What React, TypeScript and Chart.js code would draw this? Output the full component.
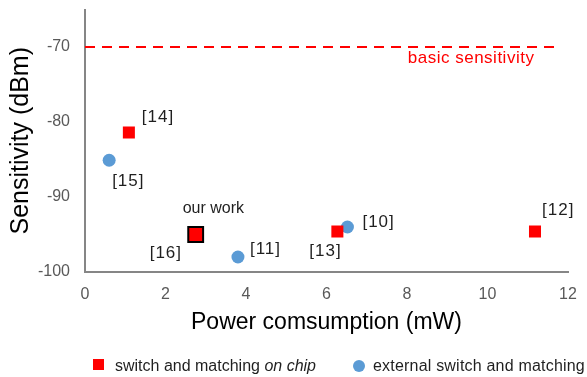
import React, { useEffect, useRef } from "react";
import { Chart, registerables } from "chart.js";

Chart.register(...registerables);

// Measured sensitivity versus power consumption
const onChipPower = [1.09, 6.27, 11.18];
const onChipSensitivity = [-81.4, -94.6, -94.6];
const onChipRefs = ["[14]", "[13]", "[12]"];

const ourWorkPower = [2.75];
const ourWorkSensitivity = [-95.0];

const externalPower = [0.6, 3.8, 6.52];
const externalSensitivity = [-85.1, -98.0, -94.0];
const externalRefs = ["[15]", "[11]", "[10]"];

const basicSensitivityLevel = -70;
const basicSensitivitySpan = [0, 11.8];

const xTicks = [0, 2, 4, 6, 8, 10, 12];
const yTicks = [-100, -90, -80, -70];

const FONT = "'Liberation Sans', Arial, sans-serif";
const RED = "#ff0000";
const BLUE = "#5b9bd5";
const AXIS = "#868686";
const TICK = "#595959";

// Canvas is drawn slightly taller and lifted so the plot top sits near the page edge
const LIFT = 3;
const W = 587;
const H = 377 + LIFT;

// Pixel offsets of each point annotation from its marker (left-aligned text, middle baseline)
const onChipLabelOffsets = [
  [13, -15],
  [-28, 20],
  [7, -21],
];
const externalLabelOffsets = [
  [3, 21],
  [12, -8],
  [15, -5],
];

const annotate = {
  id: "annotate",
  afterDatasetsDraw(chart: any) {
    const { ctx, scales } = chart;
    ctx.save();
    ctx.textBaseline = "middle";
    ctx.textAlign = "left";
    ctx.fillStyle = "#1f1f1f";
    ctx.font = `17px ${FONT}`;
    ctx.letterSpacing = "1px";

    const onChip = chart.getDatasetMeta(1).data;
    onChipRefs.forEach((t, i) => {
      const p = onChip[i];
      ctx.fillText(t, p.x + onChipLabelOffsets[i][0], p.y + onChipLabelOffsets[i][1]);
    });
    const ext = chart.getDatasetMeta(3).data;
    externalRefs.forEach((t, i) => {
      const p = ext[i];
      ctx.fillText(t, p.x + externalLabelOffsets[i][0], p.y + externalLabelOffsets[i][1]);
    });

    const ours = chart.getDatasetMeta(2).data[0];
    ctx.fillText("[16]", ours.x - 46, ours.y + 19);
    ctx.letterSpacing = "0px";
    ctx.font = `16px ${FONT}`;
    ctx.fillText("our work", ours.x - 13, ours.y - 26);

    // basic sensitivity caption under the dashed line
    ctx.fillStyle = RED;
    ctx.font = `17px ${FONT}`;
    ctx.letterSpacing = "0.5px";
    ctx.fillText("basic sensitivity", scales.x.getPixelForValue(8.02), scales.y.getPixelForValue(basicSensitivityLevel) + 11);
    ctx.restore();
  },
  afterDraw(chart: any) {
    const { ctx } = chart;
    ctx.save();
    ctx.textBaseline = "middle";
    ctx.textAlign = "left";
    const ly = 367 + LIFT;
    // on-chip entry
    ctx.fillStyle = RED;
    ctx.fillRect(93, 359 + LIFT, 11, 11);
    ctx.fillStyle = "#1f1f1f";
    ctx.font = `16px ${FONT}`;
    const part = "switch and matching ";
    ctx.fillText(part, 115, ly);
    const w = ctx.measureText(part).width;
    ctx.font = `italic 16px ${FONT}`;
    ctx.fillText("on chip", 115 + w, ly);
    // external entry
    ctx.fillStyle = BLUE;
    ctx.beginPath();
    ctx.arc(359, 366 + LIFT, 6, 0, Math.PI * 2);
    ctx.fill();
    ctx.fillStyle = "#1f1f1f";
    ctx.font = `16px ${FONT}`;
    ctx.letterSpacing = "0.2px";
    ctx.fillText("external switch and matching", 373, ly);
    ctx.restore();
  },
};

export default function App() {
  const ref = useRef<HTMLCanvasElement | null>(null);

  useEffect(() => {
    if (!ref.current) return;
    const pts = (xs: number[], ys: number[]) => xs.map((x, i) => ({ x, y: ys[i] }));
    const chart = new Chart(ref.current, {
      type: "scatter",
      data: {
        datasets: [
          {
            type: "line",
            label: "basic sensitivity",
            data: basicSensitivitySpan.map((x) => ({ x, y: basicSensitivityLevel })),
            borderColor: RED,
            borderWidth: 2,
            borderDash: [10, 7],
            pointRadius: 0,
            fill: false,
          } as any,
          {
            label: "switch and matching on chip",
            data: pts(onChipPower, onChipSensitivity),
            pointStyle: "rect",
            pointRadius: 8.5,
            backgroundColor: RED,
            borderWidth: 0,
          },
          {
            label: "our work",
            data: pts(ourWorkPower, ourWorkSensitivity),
            pointStyle: "rect",
            pointRadius: 10.5,
            backgroundColor: RED,
            borderColor: "#000000",
            borderWidth: 2,
          },
          {
            label: "external switch and matching",
            data: pts(externalPower, externalSensitivity),
            pointStyle: "circle",
            pointRadius: 6.5,
            backgroundColor: BLUE,
            borderWidth: 0,
          },
        ],
      },
      options: {
        responsive: false,
        animation: false,
        devicePixelRatio: 1,
        layout: { padding: { left: 0, top: 0, right: 19, bottom: 0 } },
        plugins: { legend: { display: false }, tooltip: { enabled: false } },
        scales: {
          x: {
            type: "linear",
            min: 0,
            max: 12,
            afterBuildTicks: (s: any) => {
              s.ticks = xTicks.map((value) => ({ value }));
            },
            afterFit: (s: any) => {
              s.height = 105;
              s.paddingLeft = 0;
              s.paddingRight = 0;
            },
            grid: { display: false, drawTicks: false },
            border: { color: AXIS, width: 2 },
            ticks: { color: TICK, font: { family: FONT, size: 16 }, padding: 13, maxRotation: 0 },
            title: {
              display: true,
              text: "Power comsumption (mW)",
              color: "#000000",
              font: { family: FONT, size: 23 },
              padding: { top: 0, bottom: 41 },
            },
          },
          y: {
            type: "linear",
            min: -100,
            max: -65,
            afterBuildTicks: (s: any) => {
              s.ticks = yTicks.map((value) => ({ value }));
            },
            afterFit: (s: any) => {
              s.width = 85;
              s.paddingTop = 0;
              s.paddingBottom = 0;
            },
            grid: { display: false, drawTicks: false },
            border: { color: AXIS, width: 2 },
            ticks: { color: TICK, font: { family: FONT, size: 16 }, padding: 15 },
            title: {
              display: true,
              text: "Sensitivity (dBm)",
              color: "#000000",
              font: { family: FONT, size: 25 },
              padding: { top: 6, bottom: 0 },
            },
          },
        },
      },
      plugins: [annotate],
    });
    return () => chart.destroy();
  }, []);

  return (
    <div style={{ position: "fixed", left: 0, top: 0, width: 587, height: 377, overflow: "hidden", background: "#ffffff" }}>
      <canvas ref={ref} width={W} height={H} style={{ display: "block", marginTop: -LIFT }} />
    </div>
  );
}
